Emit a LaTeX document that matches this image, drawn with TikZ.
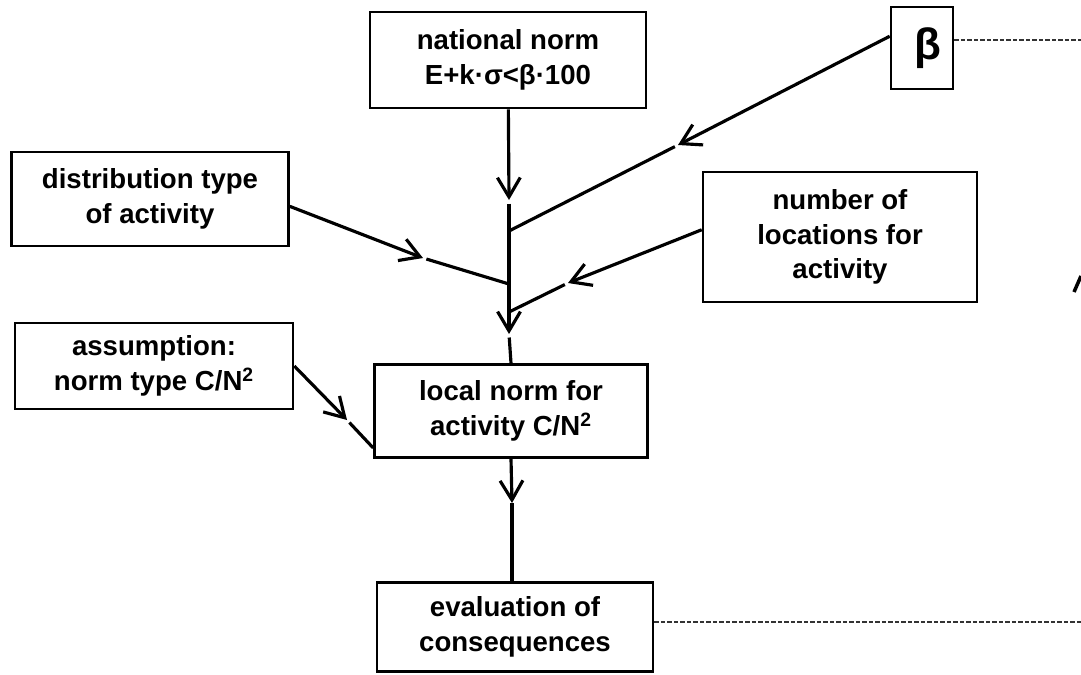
\documentclass[tikz,border=0pt]{standalone}
\usepackage{fontspec}
\setmainfont{Liberation Sans}
\usepackage{tikz}
\usetikzlibrary{arrows.meta}

\begin{document}
\begin{tikzpicture}[x=0.02cm, y=-0.02cm,
  box/.style={draw, line width=1.5pt, align=center, inner sep=0pt, font=\bfseries\fontsize{15.7}{19.8}\selectfont},
  arr/.style={-{Straight Barb[length=11pt, width=13pt, line width=1.8pt]}, line width=1.8pt},
  link/.style={line width=1.8pt, shorten <=2pt},
  dots/.style={line width=0.9pt, dash pattern=on 2.5pt off 1.2pt, black!80}]
\useasboundingbox (0,0) rectangle (1081,674);
\node[box, minimum width=5.52cm, minimum height=1.92cm] (nat) at (508,60) {national norm\\E+k·σ<β·100};
\node[box, minimum width=1.24cm, minimum height=1.64cm, font=\bfseries\fontsize{25}{25}\selectfont] (beta) at (922,48) {\hspace{0.25cm}β};
\node[box, minimum width=5.54cm, minimum height=1.88cm] (dist) at (150,199) {distribution type\\of activity};
\node[box, minimum width=5.48cm, minimum height=2.6cm] (num) at (840,237) {number of\\locations for\\activity};
\node[box, minimum width=5.56cm, minimum height=1.72cm] (assum) at (154,366) {assumption:\\norm type C/N\textsuperscript{2}};
\node[box, minimum width=5.46cm, minimum height=1.86cm] (local) at (511,411) {local norm for\\activity C/N\textsuperscript{2}};
\node[box, minimum width=5.52cm, minimum height=1.78cm] (eval) at (515,627) {evaluation of\\consequences};
% points on the main line
\coordinate (t1) at (509,200); \coordinate (t2) at (509,334); \coordinate (t3) at (512,503);
\coordinate (jb) at (509,231); \coordinate (jd) at (509,284); \coordinate (jn) at (509,312);
% arrow tips of the side inputs
\coordinate (tb) at (678,145); \coordinate (td) at (423,258);
\coordinate (tn) at (568,283); \coordinate (ta) at (347,420);
\coordinate (rb) at (1081,40); \coordinate (re) at (1081,622);
\draw[arr] (nat) -- (t1); \draw[arr, shorten <=2pt] (t1) -- (t2); \draw[link] (t2) -- (local.north);
\draw[arr] (beta.160) -- (tb); \draw[link] (tb) -- (jb);
\draw[arr] (dist.-3) -- (td); \draw[link] (td) -- (jd);
\draw[arr] (num.177) -- (tn); \draw[link] (tn) -- (jn);
\draw[arr] (assum.east) -- (ta); \draw[link] (ta) -- (local.195);
\draw[arr] (local.south) -- (t3); \draw[line width=1.8pt] (t3) -- (t3 |- eval.north);
\draw[dots] (rb -| beta.east) -- (rb);
\draw[dots] (re -| eval.east) -- (re);
\draw[line width=2pt] (1074,292) -- (1081,276);
\end{tikzpicture}
\end{document}
